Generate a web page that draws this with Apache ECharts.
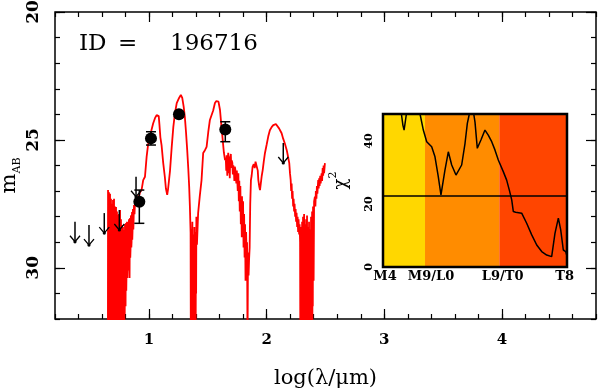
<!DOCTYPE html>
<html><head><meta charset="utf-8">
<script src="https://cdn.jsdelivr.net/npm/echarts@6/dist/echarts.min.js"></script>
<style>html,body{margin:0;padding:0;background:#fff}#c{width:600px;height:390px}</style>
</head><body><div id="c"></div>
<script>
// ---- main panel: model spectrum [log(lambda/um), m_AB] ----
const spectrum = [
[0.650,33],[0.651,26.96],[0.653,33],[0.655,27.6],[0.657,33],[0.659,27.05],[0.661,33],[0.663,28.4],[0.665,33],[0.668,27.10],[0.670,33],[0.672,29.8],[0.674,33],[0.676,27.30],[0.678,33],[0.681,28.1],[0.683,33],[0.685,27.50],[0.687,33],[0.689,28.6],[0.691,33],[0.693,27.35],[0.696,33],[0.698,30.6],[0.700,33],[0.702,27.30],[0.704,33],[0.706,28.2],[0.708,33],[0.710,27.60],[0.712,33],[0.715,28.7],[0.717,33],[0.719,27.62],[0.721,33],[0.723,31.2],[0.725,33],[0.727,27.80],[0.730,33],[0.732,28.9],[0.734,33],[0.736,27.94],[0.738,33],[0.740,29.2],[0.742,33],[0.744,27.90],[0.747,33],[0.749,29.9],[0.751,33],[0.753,27.74],[0.755,33],[0.757,28.8],[0.759,33],[0.761,28.10],[0.764,33],[0.766,30.5],[0.768,33],[0.770,28.33],[0.772,33],[0.774,29.4],[0.776,33],[0.778,28.40],[0.781,33],[0.783,29.6],[0.785,33],[0.787,28.52],[0.789,33],[0.791,30.9],[0.793,31.8],[0.795,28.30],[0.798,30.6],[0.800,31.5],[0.802,29.4],[0.804,28.25],[0.806,30.9],[0.808,30.2],[0.810,29.1],[0.812,28.20],[0.815,30.4],[0.817,29.8],[0.819,28.6],[0.821,28.21],[0.823,30.1],[0.825,29.5],[0.827,28.5],[0.829,28.10],[0.832,29.9],[0.834,30.4],[0.836,28.4],[0.838,28.05],[0.840,29.6],[0.842,29.3],[0.844,28.2],[0.846,27.95],[0.849,29.2],[0.851,29.0],[0.853,28.1],[0.855,27.82],[0.857,28.9],[0.859,28.6],[0.861,27.9],[0.863,27.70],[0.866,28.5],[0.868,28.2],[0.870,27.8],[0.872,27.55],[0.876,27.9],[0.880,27.45],[0.894,27.40],[0.906,27.30],[0.914,27.20],[0.923,27.05],[0.936,26.96],[0.950,26.57],[0.965,26.44],[0.979,25.66],[0.991,25.20],[1.007,24.87],[1.021,24.60],[1.035,24.35],[1.050,24.15],[1.064,24.03],[1.072,23.99],[1.082,24.07],[1.088,24.40],[1.096,24.90],[1.106,25.20],[1.120,25.90],[1.134,26.45],[1.143,26.90],[1.154,27.15],[1.162,26.90],[1.178,26.20],[1.192,25.30],[1.206,24.50],[1.220,23.95],[1.235,23.56],[1.255,23.36],[1.270,23.24],[1.282,23.36],[1.294,23.70],[1.304,24.10],[1.314,24.70],[1.324,25.39],[1.333,26.10],[1.341,26.84],[1.347,27.61],[1.353,28.64],[1.355,33],[1.358,28.9],[1.360,28.50],[1.362,33],[1.364,29.3],[1.366,33],[1.368,28.20],[1.370,33],[1.372,28.8],[1.375,33],[1.377,28.70],[1.379,33],[1.381,29.0],[1.383,33],[1.385,28.40],[1.388,33],[1.390,28.9],[1.392,33],[1.394,28.60],[1.396,33],[1.398,29.2],[1.400,31.0],[1.402,28.00],[1.407,29.10],[1.417,27.86],[1.431,27.20],[1.446,26.57],[1.460,25.51],[1.475,25.40],[1.489,25.27],[1.503,24.70],[1.517,24.22],[1.531,24.15],[1.545,23.85],[1.560,23.56],[1.572,23.48],[1.580,23.44],[1.590,23.50],[1.603,23.83],[1.614,24.40],[1.626,25.00],[1.636,25.50],[1.646,25.79],
[1.652,25.70],[1.656,26.20],[1.660,25.60],[1.665,26.40],[1.669,25.75],[1.673,25.50],[1.678,26.30],[1.682,25.65],[1.686,26.50],[1.690,25.70],[1.695,25.55],[1.699,26.10],[1.703,25.80],[1.708,25.90],[1.712,26.35],[1.716,26.00],[1.720,26.10],[1.725,26.60],[1.729,26.05],[1.733,26.15],[1.737,26.10],[1.742,26.70],[1.746,26.20],[1.750,26.25],[1.754,27.00],[1.759,26.30],[1.763,27.40],[1.767,26.60],[1.771,27.80],[1.776,26.80],[1.780,28.30],[1.784,27.20],[1.788,28.80],
[1.790,27.20],[1.795,28.60],[1.799,27.40],[1.803,29.20],[1.808,27.90],[1.812,29.60],[1.816,28.30],[1.820,30.50],[1.825,28.60],[1.829,29.50],[1.833,29.00],[1.837,33],[1.841,29.40],[1.846,30.30],[1.850,29.70],[1.855,29.20],[1.860,27.50],[1.866,26.57],[1.872,26.40],[1.880,26.05],[1.890,25.95],[1.898,26.10],[1.905,25.85],[1.912,25.90],[1.918,25.85],[1.924,26.20],[1.929,26.57],[1.936,26.80],[1.943,26.96],[1.950,26.70],[1.958,26.40],[1.966,26.18],[1.975,25.85],[1.985,25.52],[1.999,25.20],[2.013,24.87],[2.027,24.62],[2.042,24.50],[2.056,24.42],[2.068,24.38],[2.078,24.38],[2.090,24.45],[2.105,24.55],[2.118,24.66],[2.127,24.74],[2.140,24.95],[2.155,25.15],[2.170,25.39],[2.180,25.62],[2.192,25.91],[2.198,26.30],[2.204,26.57],[2.208,27.00],[2.212,26.70],[2.216,27.30],[2.220,27.00],[2.225,27.60],[2.229,27.30],[2.233,27.80],[2.237,27.50],[2.242,28.00],[2.246,27.70],[2.250,28.20],[2.254,27.85],[2.259,28.40],[2.263,28.00],[2.267,28.60],[2.271,28.10],[2.276,28.70],[2.280,28.30],[2.284,29.00],[2.286,33],[2.288,28.6],[2.290,33],[2.292,28.40],[2.295,33],[2.297,28.9],[2.299,33],[2.301,28.20],[2.303,33],[2.305,29.1],[2.307,33],[2.309,28.00],[2.314,29.60],[2.318,27.90],[2.320,33],[2.322,28.7],[2.324,33],[2.326,28.30],[2.328,33],[2.331,28.8],[2.333,33],[2.335,28.10],[2.337,33],[2.339,28.6],[2.341,33],[2.343,27.95],[2.346,33],[2.348,28.9],[2.350,33],[2.352,28.40],[2.354,33],[2.356,28.7],[2.358,33],[2.360,28.20],[2.363,33],[2.365,28.9],[2.367,33],[2.369,28.50],[2.371,33],[2.373,28.6],[2.375,33],[2.377,28.00],[2.380,33],[2.382,28.5],[2.384,33],[2.386,27.80],[2.388,33],[2.390,28.3],[2.392,31.5],[2.394,27.60],[2.399,30.50],[2.403,27.40],[2.410,27.22],[2.414,27.60],[2.418,27.00],[2.423,27.30],[2.427,26.80],[2.431,27.10],[2.438,26.57],[2.442,26.90],[2.446,26.50],[2.450,26.80],[2.455,26.40],[2.459,26.70],[2.467,26.31],[2.471,26.60],[2.476,26.10],[2.480,26.40],[2.484,26.00],[2.488,26.30],[2.495,25.91]
];

// photometric detections
const photLogLam = [0.917, 1.016, 1.254, 1.648];
const photMag    = [27.42, 24.94, 24.00, 24.59];
const photErrTop = [26.96, 24.68, 23.90, 24.29];
const photErrBot = [28.26, 25.20, 24.10, 25.07];

// upper limits (arrows)
const limLogLam = [0.370, 0.489, 0.619, 0.747, 0.889, 2.141];
const limMag    = [28.20, 28.33, 27.86, 27.74, 26.44, 25.12];

const xMajor = [1, 2, 3, 4];
const yMajor = [20, 25, 30];
const idLabel = ['ID', '=', '196716'];

// ---- inset: chi^2 vs spectral type (M4 = 0 ... T8 = 24) ----
const chiType = [0,1,2,2.4,2.6,2.75,2.9,3.05,3.6,4.4,4.83,5.26,5.70,6.35,6.78,7.21,7.56,8.08,8.52,8.96,9.52,10.26,10.70,11.0,11.26,11.5,11.75,12.0,12.3,12.8,13.3,13.73,14.18,14.6,15.04,15.69,16.13,16.47,16.79,17.0,17.3,18.09,18.74,19.4,20.05,20.7,21.35,22.0,22.43,22.87,23.18,23.52,23.83,24];
const chiVal  = [58,56,53,48.6,45,43.5,46,48.6,53,53,48.6,43.5,39.8,38.2,35,28.7,22.9,30.8,36.6,32.4,29.2,32.4,39.3,45.6,48.6,51,50,46,37.7,40.5,43.5,41.9,39.8,37.2,34,30.3,27.6,24.5,21.3,17.6,17.4,17.1,13.9,10.2,7.0,4.9,3.8,3.3,10.7,15.5,11.8,5.4,4.9,3.5];
const chiThreshold = 22.6;
const bandEdges  = [0, 5.48, 15.17, 24];
const bandColors = ['#FFD700', '#FF8C00', '#FF4500'];
const typeLabels = ['M4', 'M9/L0', 'L9/T0', 'T8'];
const typeLabelPos = [0.26, 6.26, 15.6, 23.7];
const chiMax = 48.6;
const chiTicks = [0, 20, 40];

const serif = 'DejaVu Serif';
const black = '#000';

function renderErr(params, api) {
  const x = api.value(0);
  const p1 = api.coord([x, api.value(2)]), p2 = api.coord([x, api.value(3)]);
  const cap = 5, st = {stroke: black, lineWidth: 1.5};
  return {type: 'group', children: [
    {type: 'line', shape: {x1: p1[0], y1: p1[1], x2: p2[0], y2: p2[1]}, style: st},
    {type: 'line', shape: {x1: p1[0]-cap, y1: p1[1], x2: p1[0]+cap, y2: p1[1]}, style: st},
    {type: 'line', shape: {x1: p2[0]-cap, y1: p2[1], x2: p2[0]+cap, y2: p2[1]}, style: st}
  ]};
}
function renderArrow(params, api) {
  const p = api.coord([api.value(0), api.value(1)]);
  const len = 20, hw = 5, hh = 6;
  const tx = p[0], ty = p[1] + len;
  return {type: 'group', children: [
    {type: 'line', shape: {x1: p[0], y1: p[1], x2: tx, y2: ty}, style: {stroke: black, lineWidth: 1.5}},
    {type: 'polyline', shape: {points: [[tx-hw, ty-hh], [tx, ty], [tx+hw, ty-hh]]}, style: {stroke: black, lineWidth: 1.3, fill: null}},
    {type: 'circle', shape: {cx: tx, cy: ty, r: 1.6}, style: {fill: black}}
  ]};
}

const noLine = {show: false};
const tickStyle = {color: black, width: 1.2};
function xAx(pos, major) {
  const a = {type: 'value', gridIndex: 0, min: 0.2, max: 4.8, position: pos,
    axisLine: noLine, splitLine: noLine};
  if (major) {
    a.axisTick = {inside: true, length: 10, customValues: xMajor, lineStyle: tickStyle};
    a.axisLabel = pos === 'bottom' ? {customValues: xMajor, margin: 14, color: black, fontFamily: serif, fontSize: 15, fontWeight: 'bold'} : {show: false};
  } else {
    a.interval = 0.2;
    a.axisTick = {inside: true, length: 5, lineStyle: tickStyle};
    a.axisLabel = {show: false};
  }
  return a;
}
function yAx(pos, major) {
  const a = {type: 'value', gridIndex: 0, min: 20, max: 32, inverse: true, position: pos,
    axisLine: noLine, splitLine: noLine};
  if (major) {
    a.axisTick = {inside: true, length: 10, customValues: yMajor, lineStyle: tickStyle};
    a.axisLabel = pos === 'left' ? {customValues: yMajor, rotate: 90, margin: 13, color: black, fontFamily: serif, fontSize: 17, fontWeight: 'bold'} : {show: false};
  } else {
    a.interval = 1;
    a.axisTick = {inside: true, length: 5, lineStyle: tickStyle};
    a.axisLabel = {show: false};
  }
  return a;
}

const xAxes = [xAx('bottom', true), xAx('bottom', false), xAx('top', true), xAx('top', false)];
xAxes[0].name = 'log(λ/μm)';
xAxes[0].nameLocation = 'middle';
xAxes[0].nameGap = 49;
xAxes[0].nameTextStyle = {fontFamily: serif, fontSize: 21, color: black};
xAxes.push({type: 'value', gridIndex: 1, min: 0, max: 24, position: 'bottom',
  axisLine: noLine, splitLine: noLine, axisTick: {show: false},
  axisLabel: {customValues: typeLabelPos, margin: 3, color: black, fontFamily: serif, fontSize: 13, fontWeight: 'bold',
    formatter: v => { let b = 0; typeLabelPos.forEach((p, i) => { if (Math.abs(p - v) < Math.abs(typeLabelPos[b] - v)) b = i; }); return typeLabels[b]; }}});

const yAxes = [yAx('left', true), yAx('left', false), yAx('right', true), yAx('right', false)];
yAxes[0].name = '{m|m}{ab|AB}';
yAxes[0].nameLocation = 'middle';
yAxes[0].nameGap = 34;
yAxes[0].nameMoveOverlap = false;
yAxes[0].nameTextStyle = {color: black, padding: [0, 20, 0, 0], rich: {
  m: {fontFamily: serif, fontSize: 21, lineHeight: 22, verticalAlign: 'top', color: black},
  ab: {fontFamily: serif, fontSize: 11, lineHeight: 11, padding: [13, 0, 0, 0], verticalAlign: 'top', color: black}
}};
yAxes.push({type: 'value', gridIndex: 1, min: 0, max: chiMax, position: 'left',
  axisLine: noLine, splitLine: noLine, axisTick: {show: false},
  axisLabel: {customValues: chiTicks, rotate: 90, margin: 8, color: black, fontFamily: serif, fontSize: 11, fontWeight: 'bold'},
  name: '{c|χ}{s|2}', nameLocation: 'middle', nameGap: 33,
  nameTextStyle: {color: black, padding: [0, 0, 0, 20], rich: {
    c: {fontFamily: serif, fontSize: 18, lineHeight: 22, verticalAlign: 'bottom', color: black},
    s: {fontFamily: serif, fontSize: 11, lineHeight: 11, padding: [0, 0, 11, 0], verticalAlign: 'bottom', color: black}
  }}});

const option = {
  animation: false,
  backgroundColor: '#fff',
  title: {
    text: '{a|' + idLabel[0] + '}{b|' + idLabel[1] + '}{c|' + idLabel[2] + '}',
    left: 79, top: 33, padding: 0,
    textStyle: {fontWeight: 'normal', rich: {
      a: {fontFamily: serif, fontSize: 23, fontWeight: 'normal', width: 39, color: black},
      b: {fontFamily: serif, fontSize: 23, fontWeight: 'normal', width: 52, color: black},
      c: {fontFamily: serif, fontSize: 23, fontWeight: 'normal', color: black}
    }}
  },
  grid: [
    {left: 55, top: 12, width: 541, height: 307, show: true, borderColor: black, borderWidth: 1.5, outerBoundsMode: 'none', containLabel: false},
    {left: 383, top: 114, width: 184, height: 153, show: true, borderColor: black, borderWidth: 2.5, z: 10, outerBoundsMode: 'none', containLabel: false}
  ],
  xAxis: xAxes,
  yAxis: yAxes,
  series: [
    {type: 'line', xAxisIndex: 0, yAxisIndex: 0, data: spectrum, symbol: 'none', clip: true,
      lineStyle: {color: '#FF0000', width: 1.8}, z: 2},
    {type: 'custom', xAxisIndex: 0, yAxisIndex: 0, renderItem: renderErr, encode: {x: 0, y: 1},
      data: photLogLam.map((x, i) => [x, photMag[i], photErrTop[i], photErrBot[i]]), z: 3},
    {type: 'custom', xAxisIndex: 0, yAxisIndex: 0, renderItem: renderArrow, encode: {x: 0, y: 1},
      data: limLogLam.map((x, i) => [x, limMag[i]]), z: 3},
    {type: 'scatter', xAxisIndex: 0, yAxisIndex: 0, symbol: 'circle', symbolSize: 12,
      itemStyle: {color: black, opacity: 1}, data: photLogLam.map((x, i) => [x, photMag[i]]), z: 4},
    {type: 'line', xAxisIndex: 4, yAxisIndex: 4, data: chiType.map((x, i) => [x, chiVal[i]]),
      symbol: 'none', clip: true, lineStyle: {color: black, width: 1.5}, z: 6,
      markArea: {silent: true, data: bandColors.map((c, i) => [
        {xAxis: bandEdges[i], itemStyle: {color: c, opacity: 1}}, {xAxis: bandEdges[i + 1]}])},
      markLine: {silent: true, symbol: 'none', label: {show: false},
        lineStyle: {color: black, width: 1.5, type: 'solid'}, data: [{yAxis: chiThreshold}]}}
  ]
};
echarts.init(document.getElementById('c'), null, {renderer: 'canvas'}).setOption(option);
</script>
</body></html>
